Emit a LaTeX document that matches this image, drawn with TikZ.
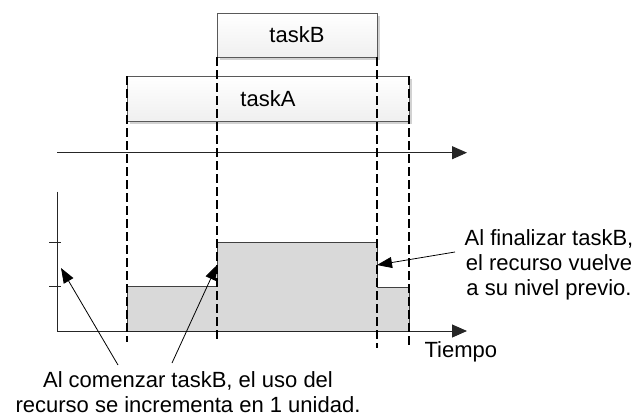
\documentclass[tikz,border=0pt]{standalone}
\usepackage{fontspec}
\setmainfont{Liberation Sans}
\usetikzlibrary{arrows.meta,shadows}
\begin{document}
\begin{tikzpicture}[x=1pt, y=-1pt, font=\fontsize{22}{25}\selectfont,
    taskbox/.style={draw=gray!70!black, top color=white, bottom color=gray!12, inner sep=0pt,
      drop shadow={shadow xshift=3pt, shadow yshift=-3pt, fill=gray!35, opacity=1}},
    guideline/.style={dash pattern=on 9pt off 4pt, line width=1.2pt},
    timeaxis/.style={line width=1pt, draw=black!85, -{Triangle[length=15pt,width=13pt]}},
    callout/.style={line width=0.8pt, -{Triangle[length=15pt,width=11pt]}},
    usage/.style={fill=gray!30, draw=black!75, line width=0.8pt}]
  \useasboundingbox (0,0) rectangle (638,418);
  % tasks on top
  \node[taskbox, minimum width=160pt, minimum height=44pt] (taskB) at (297,35) {taskB};
  \node[taskbox, minimum width=282pt, minimum height=45pt] (taskA) at (268,98.5) {taskA};

  % resource usage over time
  \draw[usage] (127,331) -- (127,286.7) -- (217,286.7) -- (217,242.7) -- (377,242.7)
    -- (377,287.3) -- (409,287.3) -- (409,331) -- cycle;

  \coordinate (topL) at (57,152.7);  \coordinate (topR) at (467,152.7);
  \coordinate (yTop) at (57,191.7);  \coordinate (orig) at (57,331);
  \coordinate (tEnd) at (467,331);
  \draw[timeaxis] (topL) -- (topR);
  \draw[line width=1pt, black!85] (yTop) -- (orig);
  \draw[timeaxis] (orig) -- (tEnd);
  \foreach \y in {242.7, 286.7} \draw[line width=1pt, black!85] (49,\y) -- (61,\y);

  \foreach \x/\a/\b in {127/76/342, 217/57/342, 377/57/348, 409/76/348}
    \draw[guideline] (\x,\a) -- (\x,\b);

  \node[anchor=west] (tiempo) at (421,352) {Tiempo};
  \node[align=center] (inc) at (188,392) {Al comenzar taskB, el uso del\\recurso se incrementa en 1 unidad.};
  \node[align=center] (dec) at (549,265) {Al finalizar taskB,\\el recurso vuelve\\a su nivel previo.};

  \coordinate (incA) at (118,365); \coordinate (lvl) at (61,268);
  \coordinate (incB) at (172,363); \coordinate (stepUp) at (217,265);
  \coordinate (decA) at (455,252); \coordinate (stepDn) at (377,265);
  \draw[callout] (incA) -- (lvl);
  \draw[callout] (incB) -- (stepUp);
  \draw[callout] (decA) -- (stepDn);
\end{tikzpicture}
\end{document}
